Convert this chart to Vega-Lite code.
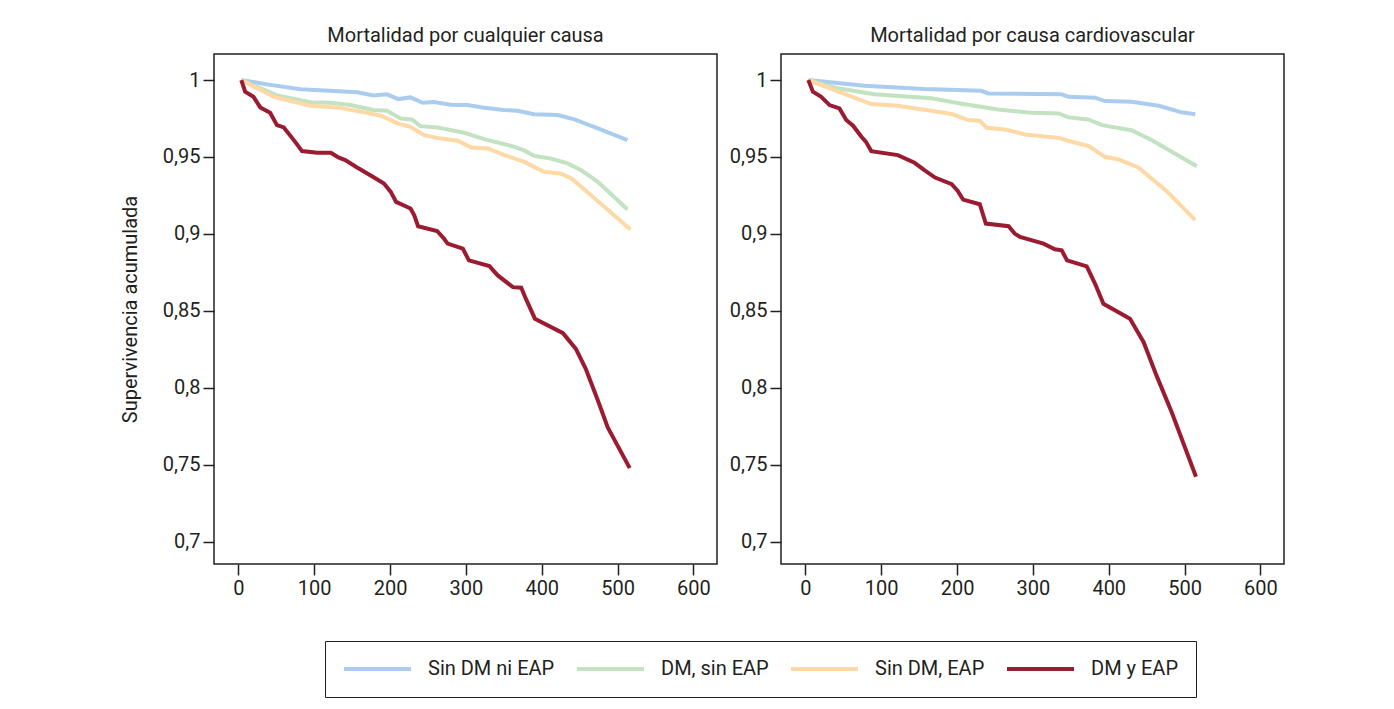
{
  "$schema": "https://vega.github.io/schema/vega-lite/v6.json",
  "padding": {"left": 119, "top": 25, "right": 5, "bottom": 5},
  "background": "white",
  "datasets": {
    "all": [
      {"group": "Sin DM ni EAP", "t": 4, "s": 1}, {"group": "Sin DM ni EAP", "t": 40, "s": 0.997}, {"group": "Sin DM ni EAP", "t": 82, "s": 0.994}, {"group": "Sin DM ni EAP", "t": 157, "s": 0.992}, {"group": "Sin DM ni EAP", "t": 178, "s": 0.990}, {"group": "Sin DM ni EAP", "t": 196, "s": 0.9907}, {"group": "Sin DM ni EAP", "t": 211, "s": 0.9876}, {"group": "Sin DM ni EAP", "t": 227, "s": 0.9887}, {"group": "Sin DM ni EAP", "t": 243, "s": 0.9852}, {"group": "Sin DM ni EAP", "t": 258, "s": 0.9857}, {"group": "Sin DM ni EAP", "t": 280, "s": 0.9839}, {"group": "Sin DM ni EAP", "t": 302, "s": 0.9837}, {"group": "Sin DM ni EAP", "t": 324, "s": 0.982}, {"group": "Sin DM ni EAP", "t": 350, "s": 0.9805}, {"group": "Sin DM ni EAP", "t": 368, "s": 0.980}, {"group": "Sin DM ni EAP", "t": 390, "s": 0.9777}, {"group": "Sin DM ni EAP", "t": 421, "s": 0.9772}, {"group": "Sin DM ni EAP", "t": 443, "s": 0.9744}, {"group": "Sin DM ni EAP", "t": 474, "s": 0.9686}, {"group": "Sin DM ni EAP", "t": 513, "s": 0.961},
      {"group": "DM, sin EAP", "t": 4, "s": 1}, {"group": "DM, sin EAP", "t": 51, "s": 0.990}, {"group": "DM, sin EAP", "t": 95, "s": 0.9855}, {"group": "DM, sin EAP", "t": 122, "s": 0.9852}, {"group": "DM, sin EAP", "t": 148, "s": 0.9837}, {"group": "DM, sin EAP", "t": 178, "s": 0.9805}, {"group": "DM, sin EAP", "t": 196, "s": 0.980}, {"group": "DM, sin EAP", "t": 214, "s": 0.975}, {"group": "DM, sin EAP", "t": 229, "s": 0.9744}, {"group": "DM, sin EAP", "t": 240, "s": 0.970}, {"group": "DM, sin EAP", "t": 262, "s": 0.9692}, {"group": "DM, sin EAP", "t": 298, "s": 0.9657}, {"group": "DM, sin EAP", "t": 324, "s": 0.9616}, {"group": "DM, sin EAP", "t": 364, "s": 0.9566}, {"group": "DM, sin EAP", "t": 376, "s": 0.9544}, {"group": "DM, sin EAP", "t": 390, "s": 0.9507}, {"group": "DM, sin EAP", "t": 412, "s": 0.949}, {"group": "DM, sin EAP", "t": 434, "s": 0.9458}, {"group": "DM, sin EAP", "t": 452, "s": 0.9414}, {"group": "DM, sin EAP", "t": 474, "s": 0.9338}, {"group": "DM, sin EAP", "t": 513, "s": 0.9158},
      {"group": "Sin DM, EAP", "t": 4, "s": 1}, {"group": "Sin DM, EAP", "t": 47, "s": 0.989}, {"group": "Sin DM, EAP", "t": 95, "s": 0.9833}, {"group": "Sin DM, EAP", "t": 130, "s": 0.9822}, {"group": "Sin DM, EAP", "t": 166, "s": 0.979}, {"group": "Sin DM, EAP", "t": 188, "s": 0.9768}, {"group": "Sin DM, EAP", "t": 210, "s": 0.9718}, {"group": "Sin DM, EAP", "t": 227, "s": 0.9696}, {"group": "Sin DM, EAP", "t": 245, "s": 0.9642}, {"group": "Sin DM, EAP", "t": 262, "s": 0.9624}, {"group": "Sin DM, EAP", "t": 289, "s": 0.9605}, {"group": "Sin DM, EAP", "t": 307, "s": 0.9562}, {"group": "Sin DM, EAP", "t": 329, "s": 0.9555}, {"group": "Sin DM, EAP", "t": 351, "s": 0.9512}, {"group": "Sin DM, EAP", "t": 377, "s": 0.9468}, {"group": "Sin DM, EAP", "t": 403, "s": 0.9403}, {"group": "Sin DM, EAP", "t": 425, "s": 0.9392}, {"group": "Sin DM, EAP", "t": 439, "s": 0.936}, {"group": "Sin DM, EAP", "t": 465, "s": 0.9251}, {"group": "Sin DM, EAP", "t": 517, "s": 0.9028},
      {"group": "DM y EAP", "t": 4, "s": 1}, {"group": "DM y EAP", "t": 9, "s": 0.9924}, {"group": "DM y EAP", "t": 20, "s": 0.9891}, {"group": "DM y EAP", "t": 29, "s": 0.9822}, {"group": "DM y EAP", "t": 42, "s": 0.9787}, {"group": "DM y EAP", "t": 51, "s": 0.9707}, {"group": "DM y EAP", "t": 60, "s": 0.9692}, {"group": "DM y EAP", "t": 75, "s": 0.9598}, {"group": "DM y EAP", "t": 84, "s": 0.9538}, {"group": "DM y EAP", "t": 104, "s": 0.9527}, {"group": "DM y EAP", "t": 122, "s": 0.9527}, {"group": "DM y EAP", "t": 132, "s": 0.9497}, {"group": "DM y EAP", "t": 141, "s": 0.948}, {"group": "DM y EAP", "t": 155, "s": 0.9436}, {"group": "DM y EAP", "t": 179, "s": 0.9366}, {"group": "DM y EAP", "t": 192, "s": 0.9327}, {"group": "DM y EAP", "t": 201, "s": 0.9273}, {"group": "DM y EAP", "t": 208, "s": 0.9208}, {"group": "DM y EAP", "t": 227, "s": 0.9165}, {"group": "DM y EAP", "t": 232, "s": 0.9121}, {"group": "DM y EAP", "t": 237, "s": 0.905}, {"group": "DM y EAP", "t": 262, "s": 0.9019}, {"group": "DM y EAP", "t": 271, "s": 0.897}, {"group": "DM y EAP", "t": 276, "s": 0.8937}, {"group": "DM y EAP", "t": 296, "s": 0.8904}, {"group": "DM y EAP", "t": 304, "s": 0.8828}, {"group": "DM y EAP", "t": 331, "s": 0.8791}, {"group": "DM y EAP", "t": 342, "s": 0.873}, {"group": "DM y EAP", "t": 362, "s": 0.8654}, {"group": "DM y EAP", "t": 373, "s": 0.865}, {"group": "DM y EAP", "t": 379, "s": 0.8579}, {"group": "DM y EAP", "t": 391, "s": 0.8449}, {"group": "DM y EAP", "t": 428, "s": 0.8355}, {"group": "DM y EAP", "t": 445, "s": 0.8253}, {"group": "DM y EAP", "t": 458, "s": 0.8123}, {"group": "DM y EAP", "t": 474, "s": 0.7917}, {"group": "DM y EAP", "t": 487, "s": 0.7743}, {"group": "DM y EAP", "t": 516, "s": 0.7478}
    ],
    "cv": [
      {"group": "Sin DM ni EAP", "t": 4, "s": 1}, {"group": "Sin DM ni EAP", "t": 78, "s": 0.9963}, {"group": "Sin DM ni EAP", "t": 157, "s": 0.9941}, {"group": "Sin DM ni EAP", "t": 232, "s": 0.993}, {"group": "Sin DM ni EAP", "t": 241, "s": 0.9913}, {"group": "Sin DM ni EAP", "t": 338, "s": 0.9907}, {"group": "Sin DM ni EAP", "t": 347, "s": 0.9891}, {"group": "Sin DM ni EAP", "t": 382, "s": 0.9885}, {"group": "Sin DM ni EAP", "t": 395, "s": 0.9863}, {"group": "Sin DM ni EAP", "t": 430, "s": 0.9859}, {"group": "Sin DM ni EAP", "t": 466, "s": 0.9833}, {"group": "Sin DM ni EAP", "t": 496, "s": 0.979}, {"group": "Sin DM ni EAP", "t": 514, "s": 0.9777},
      {"group": "DM, sin EAP", "t": 4, "s": 1}, {"group": "DM, sin EAP", "t": 43, "s": 0.9946}, {"group": "DM, sin EAP", "t": 91, "s": 0.9907}, {"group": "DM, sin EAP", "t": 166, "s": 0.9881}, {"group": "DM, sin EAP", "t": 210, "s": 0.9842}, {"group": "DM, sin EAP", "t": 254, "s": 0.9809}, {"group": "DM, sin EAP", "t": 298, "s": 0.9787}, {"group": "DM, sin EAP", "t": 334, "s": 0.9783}, {"group": "DM, sin EAP", "t": 347, "s": 0.9757}, {"group": "DM, sin EAP", "t": 373, "s": 0.9744}, {"group": "DM, sin EAP", "t": 391, "s": 0.9707}, {"group": "DM, sin EAP", "t": 430, "s": 0.9674}, {"group": "DM, sin EAP", "t": 457, "s": 0.9609}, {"group": "DM, sin EAP", "t": 516, "s": 0.944},
      {"group": "Sin DM, EAP", "t": 4, "s": 1}, {"group": "Sin DM, EAP", "t": 56, "s": 0.9902}, {"group": "Sin DM, EAP", "t": 87, "s": 0.9844}, {"group": "Sin DM, EAP", "t": 122, "s": 0.9833}, {"group": "Sin DM, EAP", "t": 166, "s": 0.98}, {"group": "Sin DM, EAP", "t": 193, "s": 0.9779}, {"group": "Sin DM, EAP", "t": 215, "s": 0.974}, {"group": "Sin DM, EAP", "t": 230, "s": 0.9735}, {"group": "Sin DM, EAP", "t": 239, "s": 0.969}, {"group": "Sin DM, EAP", "t": 263, "s": 0.9679}, {"group": "Sin DM, EAP", "t": 290, "s": 0.9646}, {"group": "Sin DM, EAP", "t": 334, "s": 0.9624}, {"group": "Sin DM, EAP", "t": 351, "s": 0.9599}, {"group": "Sin DM, EAP", "t": 373, "s": 0.9572}, {"group": "Sin DM, EAP", "t": 395, "s": 0.9501}, {"group": "Sin DM, EAP", "t": 413, "s": 0.9484}, {"group": "Sin DM, EAP", "t": 439, "s": 0.9432}, {"group": "Sin DM, EAP", "t": 475, "s": 0.9284}, {"group": "Sin DM, EAP", "t": 514, "s": 0.9089},
      {"group": "DM y EAP", "t": 4, "s": 1}, {"group": "DM y EAP", "t": 10, "s": 0.9924}, {"group": "DM y EAP", "t": 21, "s": 0.9891}, {"group": "DM y EAP", "t": 32, "s": 0.9837}, {"group": "DM y EAP", "t": 45, "s": 0.9815}, {"group": "DM y EAP", "t": 54, "s": 0.974}, {"group": "DM y EAP", "t": 63, "s": 0.9703}, {"group": "DM y EAP", "t": 74, "s": 0.9631}, {"group": "DM y EAP", "t": 80, "s": 0.9598}, {"group": "DM y EAP", "t": 87, "s": 0.9538}, {"group": "DM y EAP", "t": 122, "s": 0.9512}, {"group": "DM y EAP", "t": 144, "s": 0.9462}, {"group": "DM y EAP", "t": 157, "s": 0.9414}, {"group": "DM y EAP", "t": 171, "s": 0.9366}, {"group": "DM y EAP", "t": 193, "s": 0.9323}, {"group": "DM y EAP", "t": 201, "s": 0.9279}, {"group": "DM y EAP", "t": 208, "s": 0.9223}, {"group": "DM y EAP", "t": 230, "s": 0.9193}, {"group": "DM y EAP", "t": 238, "s": 0.9067}, {"group": "DM y EAP", "t": 268, "s": 0.905}, {"group": "DM y EAP", "t": 276, "s": 0.9002}, {"group": "DM y EAP", "t": 283, "s": 0.898}, {"group": "DM y EAP", "t": 314, "s": 0.8937}, {"group": "DM y EAP", "t": 329, "s": 0.89}, {"group": "DM y EAP", "t": 338, "s": 0.8893}, {"group": "DM y EAP", "t": 345, "s": 0.8828}, {"group": "DM y EAP", "t": 371, "s": 0.8789}, {"group": "DM y EAP", "t": 382, "s": 0.8676}, {"group": "DM y EAP", "t": 393, "s": 0.8546}, {"group": "DM y EAP", "t": 428, "s": 0.8449}, {"group": "DM y EAP", "t": 446, "s": 0.8296}, {"group": "DM y EAP", "t": 463, "s": 0.8079}, {"group": "DM y EAP", "t": 483, "s": 0.7841}, {"group": "DM y EAP", "t": 515, "s": 0.7422}
    ]
  },
  "hconcat": [
    {
      "title": "Mortalidad por cualquier causa",
      "width": 503,
      "height": 510,
      "data": {"name": "all"},
      "mark": {"type": "line", "strokeWidth": 4, "clip": true},
      "encoding": {
        "x": {"field": "t", "type": "quantitative", "scale": {"domain": [-32, 631], "nice": false, "zero": false}, "axis": {"title": null, "values": [0, 100, 200, 300, 400, 500, 600]}},
        "y": {"field": "s", "type": "quantitative", "scale": {"domain": [0.6855, 1.0169], "nice": false, "zero": false}, "axis": {"title": "Supervivencia acumulada", "values": [0.7, 0.75, 0.8, 0.85, 0.9, 0.95, 1], "labelExpr": "replace(format(datum.value, '~g'), '.', ',')"}},
        "color": {"field": "group", "type": "nominal", "scale": {"domain": ["Sin DM ni EAP", "DM, sin EAP", "Sin DM, EAP", "DM y EAP"], "range": ["#aaccee", "#c2e2c2", "#fed9a6", "#9b1c31"]}, "legend": {"title": null, "orient": "none", "direction": "horizontal", "legendX": 111, "legendY": 587}}
      }
    },
    {
      "title": "Mortalidad por causa cardiovascular",
      "width": 503,
      "height": 510,
      "data": {"name": "cv"},
      "mark": {"type": "line", "strokeWidth": 4, "clip": true},
      "encoding": {
        "x": {"field": "t", "type": "quantitative", "scale": {"domain": [-32, 631], "nice": false, "zero": false}, "axis": {"title": null, "values": [0, 100, 200, 300, 400, 500, 600]}},
        "y": {"field": "s", "type": "quantitative", "scale": {"domain": [0.6855, 1.0169], "nice": false, "zero": false}, "axis": {"title": null, "values": [0.7, 0.75, 0.8, 0.85, 0.9, 0.95, 1], "labelExpr": "replace(format(datum.value, '~g'), '.', ',')"}},
        "color": {"field": "group", "type": "nominal", "scale": {"domain": ["Sin DM ni EAP", "DM, sin EAP", "Sin DM, EAP", "DM y EAP"], "range": ["#aaccee", "#c2e2c2", "#fed9a6", "#9b1c31"]}, "legend": {"title": null, "orient": "none", "direction": "horizontal", "legendX": 111, "legendY": 587}}
      }
    }
  ],
  "spacing": 10,
  "resolve": {"scale": {"color": "shared"}},
  "config": {
    "font": "Roboto",
    "view": {"stroke": "#231f20", "strokeWidth": 1.5},
    "title": {"fontSize": 20, "fontWeight": "normal", "color": "#231f20", "offset": 8, "font": "Roboto"},
    "axis": {
      "domain": false, "grid": false, "ticks": true, "tickSize": 11, "tickWidth": 1.5, "tickColor": "#231f20",
      "labelFontSize": 20, "labelColor": "#231f20", "labelPadding": 3, "labelFont": "Roboto",
      "titleFontSize": 20, "titleFontWeight": "normal", "titleColor": "#231f20", "titleFont": "Roboto", "titlePadding": 22
    },
    "legend": {
      "symbolType": "stroke", "symbolSize": 4489, "symbolStrokeWidth": 4, "clipHeight": 22,
      "labelFontSize": 20, "labelColor": "#231f20", "labelFont": "Roboto", "labelOffset": 15,
      "columnPadding": 20, "padding": 17, "strokeColor": "#231f20", "fillColor": "white"
    }
  }
}
